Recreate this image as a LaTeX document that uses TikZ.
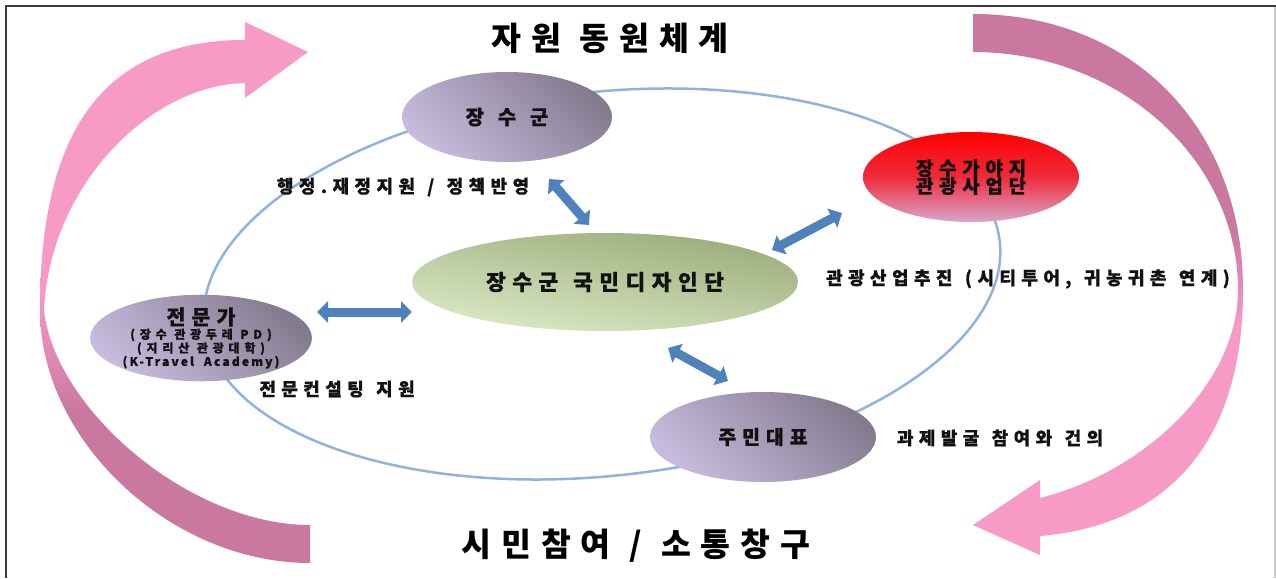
\documentclass[tikz,border=0pt]{standalone}
\usepackage{fontspec}
\setmainfont{Noto Sans CJK KR}
\newfontfamily\krlab{Noto Sans CJK KR}[LetterSpace=30, WordSpace=1.2, FakeBold=0.6]
\newfontfamily\krnode{Noto Sans CJK KR}[LetterSpace=30, WordSpace=1.3, FakeBold=0.6]
\newfontfamily\krtitle{Noto Sans CJK KR}[LetterSpace=30, WordSpace=1.1]
\newfontfamily\krsubk{Noto Sans CJK KR}[LetterSpace=40, FakeBold=0.5]
\newfontfamily\krsubl{Noto Sans CJK KR}[LetterSpace=18, FakeBold=0.5]
\usetikzlibrary{shapes.geometric,arrows.meta}
\definecolor{framec}{HTML}{3A3A3A}
\definecolor{pinkc}{HTML}{F79AC6}
\definecolor{mauvec}{HTML}{CB78A1}
\definecolor{ringc}{HTML}{8FB3DD}
\definecolor{arrblue}{HTML}{4F81BD}
\definecolor{lavdark}{HTML}{857B90}
\definecolor{lavlight}{HTML}{C6BBDC}
\definecolor{grdark}{HTML}{9AAB78}
\definecolor{grlight}{HTML}{DDEAC7}
\definecolor{redtop}{HTML}{FF0000}
\definecolor{redmid}{HTML}{EF2B3B}
\definecolor{redbot}{HTML}{D9A6CC}
\definecolor{txtc}{HTML}{111111}
\pgfdeclareverticalshading{leftarrshade}{100bp}{color(0bp)=(mauvec); color(39bp)=(mauvec); color(50bp)=(pinkc); color(100bp)=(pinkc)}
\pgfdeclareverticalshading{rightarrshade}{100bp}{color(0bp)=(pinkc); color(46bp)=(pinkc); color(55bp)=(mauvec); color(100bp)=(mauvec)}
\tikzset{
  lav/.style={ellipse, inner sep=0pt, text=txtc, align=center,
    top color=lavdark, bottom color=lavlight, shading angle=-45},
  grn/.style={ellipse, inner sep=0pt, text=txtc, align=center,
    top color=grdark, bottom color=grlight, shading angle=-10},
  rednode/.style={ellipse, inner sep=0pt, text=txtc, align=center,
    top color=redtop, bottom color=redbot, middle color=redmid},
  dbl/.style={draw=arrblue, line width=9pt,
    {Triangle[length=11pt,width=21pt]}-{Triangle[length=11pt,width=21pt]}},
  lab/.style={inner sep=0pt, text=txtc, font=\krlab\bfseries\fontsize{18}{22}\selectfont},
  ttl/.style={inner sep=0pt, text=black, font=\krtitle\bfseries\fontsize{32.5}{38}\selectfont}
}
\begin{document}
\begin{tikzpicture}[x=1pt,y=-1pt]
\useasboundingbox (0,0) rectangle (1276,578);
\fill[white] (0,0) rectangle (1276,578);
% frame
\draw[framec, line width=2pt] (6,578) -- (6,6) -- (1276,6);
\draw[black!20, line width=1.5pt] (1275,7) -- (1275,578);
% pink curved arrows
\shade[shading=leftarrshade] (310,525) -- (310,563)
  .. controls (170,563) and (40,440) .. (40,310)
  .. controls (40,150) and (90,40) .. (245,40)
  -- (245,22) -- (308,52) -- (245,98) -- (245,83)
  .. controls (150,85) and (50,185) .. (44,310)
  .. controls (55,410) and (190,525) .. (310,525) -- cycle;
\shade[shading=rightarrshade] (973,14)
  .. controls (1130,14) and (1243,125) .. (1243,290)
  .. controls (1243,440) and (1170,525) .. (1040,536)
  -- (1040,555) -- (973,525) -- (1040,480) -- (1040,498)
  .. controls (1150,470) and (1238,380) .. (1238,290)
  .. controls (1238,160) and (1120,52) .. (973,52) -- cycle;
% ring
\draw[ringc, line width=2.5pt, rotate around={6:(602,284)}] (602,284) ellipse [x radius=400, y radius=192];
% titles
\node[ttl] (title1) at (610,38) {자원 동원체계};
\node[ttl] (title2) at (636,546) {시민참여 / 소통창구};
% nodes
\node[lav, minimum width=210pt, minimum height=90pt] (gun) at (507,117)
  {\krnode\bfseries\fontsize{20}{22}\selectfont 장 수 군};
\node[grn, minimum width=386pt, minimum height=98pt] (center) at (605,282)
  {\krnode\bfseries\fontsize{21.5}{26}\selectfont 장수군 국민디자인단};
\node[rednode, minimum width=216pt, minimum height=90pt] (tour) at (971,177)
  {\krnode\bfseries\fontsize{19}{22}\selectfont 장수가야지\\[-1pt]\krnode\bfseries\fontsize{19}{22}\selectfont 관광사업단};
\node[lav, minimum width=216pt, minimum height=80pt] (expert) at (201,338)
  {\krnode\bfseries\fontsize{20.5}{21}\selectfont 전문가\\[1pt]
   \krsubk\bfseries\fontsize{12}{10.5}\selectfont (장수 관광두레 PD)\\
   \krsubk\bfseries\fontsize{12}{10.5}\selectfont (지리산 관광대학)\\
   \krsubl\bfseries\fontsize{12}{10.5}\selectfont (K-Travel\ \ Academy)};
\node[lav, minimum width=226pt, minimum height=90pt] (resident) at (763,437)
  {\krnode\bfseries\fontsize{19.5}{22}\selectfont 주민대표};
% blue double arrows
\coordinate (a1s) at (549,179); \coordinate (a1e) at (589,225);
\coordinate (a2s) at (772,250); \coordinate (a2e) at (842,213);
\coordinate (a3s) at (317,312); \coordinate (a3e) at (412,312);
\coordinate (a4s) at (668,348); \coordinate (a4e) at (728,381);
\draw[dbl] (a1s) -- (a1e);
\draw[dbl] (a2s) -- (a2e);
\draw[dbl] (a3s) -- (a3e);
\draw[dbl] (a4s) -- (a4e);
% labels
\node[lab] (l1) at (403,187) {행정.재정지원 / 정책반영};
\node[lab] (l2) at (1028,279) {관광산업추진 (시티투어, 귀농귀촌 연계)};
\node[lab] (l3) at (337,389) {전문컨설팅 지원};
\node[lab] (l4) at (1000,438) {과제발굴 참여와 건의};
\end{tikzpicture}
\end{document}
